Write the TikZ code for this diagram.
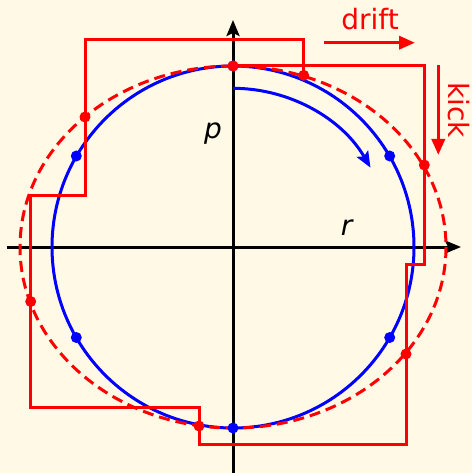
\documentclass[tikz,border=0pt]{standalone}
\usepackage{fontspec}
\setmainfont{DejaVu Sans}
\usetikzlibrary{arrows.meta}
\definecolor{bg}{RGB}{255,249,230}
\begin{document}
\begin{tikzpicture}[x=1pt,y=-1pt,
  axisline/.style={line width=3pt,-{Stealth[length=16pt,width=13pt,inset=3pt]}},
  stepline/.style={red,line width=3pt,line join=miter},
  hintarrow/.style={red,line width=3.5pt,-{Triangle[length=16pt,width=13pt]}},
  reddot/.style={circle,fill=red,inner sep=0pt,minimum size=11pt},
  bluedot/.style={circle,fill=blue,inner sep=0pt,minimum size=11pt},
  lbl/.style={font=\fontsize{28}{34}\selectfont,inner sep=0pt,anchor=base}
]
\fill[bg] (0,0) rectangle (472,473);
\useasboundingbox (0,0) rectangle (472,473);
% axes
\coordinate (xs) at (7,247);
\coordinate (xe) at (461,247);
\coordinate (ys) at (233,475);
\coordinate (ye) at (233,20);
\draw[axisline] (xs) -- (xe);
\draw[axisline] (ys) -- (ye);
% blue exact orbit
\draw[blue,line width=3pt] (233,247) circle[radius=181];
% red modified orbit
\draw[red,line width=3pt,dash pattern=on 11pt off 6pt] (233,247) ellipse[x radius=213,y radius=181];
% staircase
\coordinate (s0) at (233,66);
\coordinate (s1) at (424.3,165);
\coordinate (s2) at (406,354);
\coordinate (s3) at (199,426);
\coordinate (s4) at (30.7,301.5);
\coordinate (s5) at (85,117);
\coordinate (s6) at (303.7,75.3);
\draw[stepline] (s0) -- (424.3,66) -- (424.3,264) -- (406,264) -- (406,444)
  -- (199,444) -- (199,407.7) -- (30.7,407.7) -- (30.7,195) -- (85,195)
  -- (85,39.3) -- (303.7,39.3) -- (s6);
% blue arc arrow
\coordinate (a0) at (233,88.3);
\draw[blue,line width=3pt,-{Stealth[length=16pt,width=13pt,inset=3pt]}]
  (a0) arc[start angle=-90,end angle=-30,radius=158.7];
% blue dots
\node[bluedot] (b1) at (233,66) {};
\node[bluedot] (b2) at (389.7,156) {};
\node[bluedot] (b3) at (389.7,337.5) {};
\node[bluedot] (b4) at (76.3,156) {};
\node[bluedot] (b5) at (76.3,337.5) {};
\node[bluedot] (b6) at (233,428) {};
% red dots
\foreach \i in {0,...,6} { \node[reddot] (r\i) at (s\i) {}; }
% labels
\node[lbl,red] (drift) at (370,30) {drift};
\coordinate (d0) at (324,42.7);
\coordinate (d1) at (415,42.7);
\draw[hintarrow] (d0) -- (d1);
\node[lbl,red,rotate=-90] (kick) at (448.3,110) {kick};
\coordinate (k0) at (438.3,65);
\coordinate (k1) at (438.3,155);
\draw[hintarrow] (k0) -- (k1);
\node[lbl,font=\fontsize{28}{34}\selectfont\itshape] (plabel) at (213,138.6) {p};
\node[lbl,font=\fontsize{28}{34}\selectfont\itshape] (rlabel) at (346.7,235) {r};
\end{tikzpicture}
\end{document}
